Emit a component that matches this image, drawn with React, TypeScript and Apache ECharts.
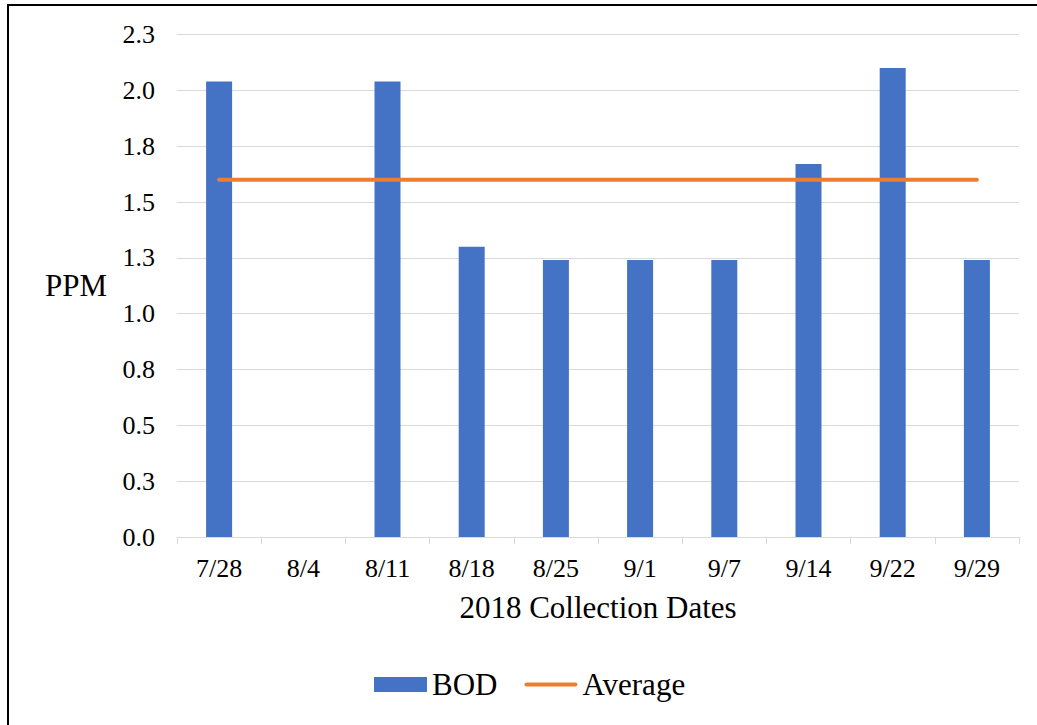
import React, { useEffect, useRef } from "react";
import * as echarts from "echarts";

const categories = ["7/28", "8/4", "8/11", "8/18", "8/25", "9/1", "9/7", "9/14", "9/22", "9/29"];
const bodValues: (number | null)[] = [2.04, null, 2.04, 1.3, 1.24, 1.24, 1.24, 1.67, 2.1, 1.24];
const averageValues = [1.6, 1.6, 1.6, 1.6, 1.6, 1.6, 1.6, 1.6, 1.6, 1.6];
const yTickLabels = ["0.0", "0.3", "0.5", "0.8", "1.0", "1.3", "1.5", "1.8", "2.0", "2.3"];

const FONT = "Liberation Serif";

export default function App() {
  const ref = useRef<HTMLDivElement>(null);
  useEffect(() => {
    if (!ref.current) return;
    const chart = echarts.init(ref.current, undefined, { renderer: "svg" });
    chart.setOption({
      animation: false,
      backgroundColor: "#ffffff",
      textStyle: { fontFamily: FONT, color: "#000" },
      grid: { left: 177, right: 18, top: 34.5, bottom: 188, containLabel: false },
      legend: {
        left: 369,
        top: 664,
        itemWidth: 53,
        itemHeight: 15,
        itemGap: 27,
        textStyle: { fontFamily: FONT, fontSize: 31, color: "#000" },
        data: [
          { name: "BOD", icon: "rect" },
          {
            name: "Average",
            icon: "path://M2,0 L53,0 C54.1,0 55,0.9 55,2 C55,3.1 54.1,4 53,4 L2,4 C0.9,4 0,3.1 0,2 C0,0.9 0.9,0 2,0 Z",
          },
        ],
      },
      xAxis: {
        type: "category",
        data: categories,
        boundaryGap: true,
        axisLine: { lineStyle: { color: "#d9d9d9", width: 1 } },
        axisTick: { show: true, length: 7, lineStyle: { color: "#d9d9d9" } },
        axisLabel: { fontFamily: FONT, fontSize: 26, color: "#000", margin: 18 },
        name: "2018 Collection Dates",
        nameLocation: "middle",
        nameGap: 55,
        nameTextStyle: { fontFamily: FONT, fontSize: 31, color: "#000" },
      },
      yAxis: {
        type: "value",
        min: 0,
        max: 2.25,
        interval: 0.25,
        axisLine: { show: false },
        axisTick: { show: false },
        splitLine: { lineStyle: { color: "#d9d9d9", width: 1 } },
        axisLabel: {
          fontFamily: FONT,
          fontSize: 26,
          color: "#000",
          margin: 22,
          formatter: (v: number) => yTickLabels[Math.round(v / 0.25)] ?? "",
        },
      },
      graphic: [
        {
          type: "text",
          left: 45,
          top: 270,
          style: { text: "PPM", fontFamily: FONT, fontSize: 31, fill: "#000" },
        },
        { type: "line", shape: { x1: 8, y1: 5, x2: 8, y2: 725 }, style: { stroke: "#000", lineWidth: 2 } },
        { type: "line", shape: { x1: 7, y1: 5, x2: 1037, y2: 5 }, style: { stroke: "#000", lineWidth: 2 } },
      ],
      series: [
        {
          name: "BOD",
          type: "bar",
          data: bodValues,
          barWidth: 26,
          itemStyle: { color: "#4472C4" },
        },
        {
          name: "Average",
          type: "line",
          data: averageValues,
          symbol: "none",
          lineStyle: { color: "#ED7D31", width: 4, cap: "round" },
          itemStyle: { color: "#ED7D31" },
        },
      ],
    });
    return () => chart.dispose();
  }, []);
  return <div ref={ref} style={{ position: "fixed", left: 0, top: 0, width: 1037, height: 725 }} />;
}
